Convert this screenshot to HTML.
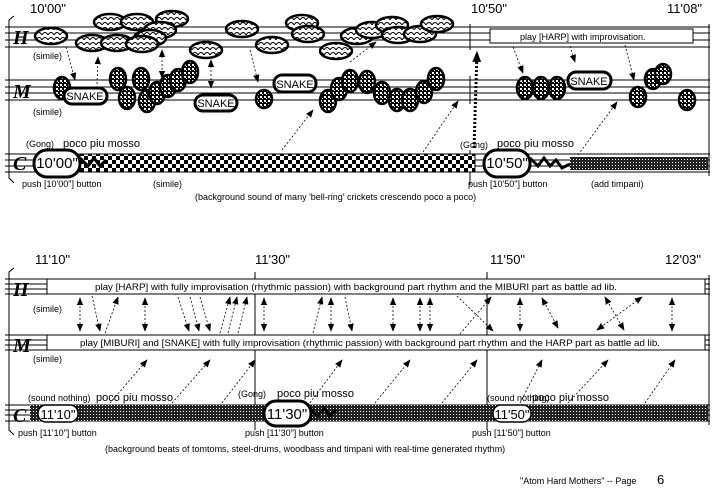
<!DOCTYPE html>
<html><head><meta charset="utf-8"><style>
html,body{margin:0;padding:0;background:#fff;}
svg{display:block;font-family:"Liberation Sans",sans-serif;}
</style></head><body>
<svg width="716" height="494" viewBox="0 0 716 494" xmlns="http://www.w3.org/2000/svg">
<defs>
<pattern id="scale" width="6" height="5" patternUnits="userSpaceOnUse"><rect width="6" height="5" fill="#fff"/><path d="M0 5 Q3 0 6 5" fill="none" stroke="#000" stroke-width="1"/></pattern>
<pattern id="chk" width="4" height="4" patternUnits="userSpaceOnUse"><rect width="4" height="4" fill="#000"/><rect width="2" height="2" fill="#fff"/><rect x="2" y="2" width="1" height="1" fill="#fff"/></pattern>
<pattern id="big" width="8" height="8" patternUnits="userSpaceOnUse"><rect width="8" height="8" fill="#fff"/><rect width="4" height="4" fill="#000"/><rect x="4" y="4" width="4" height="4" fill="#000"/></pattern>
<pattern id="dot" width="3" height="3" patternUnits="userSpaceOnUse"><rect width="3" height="3" fill="#222"/><rect width="1" height="1" fill="#fff"/></pattern>
<marker id="a" viewBox="0 0 10 10" refX="9" refY="5" markerWidth="10" markerHeight="10" orient="auto-start-reverse"><path d="M0 1 L10 5 L0 9z" fill="#000"/></marker>
<marker id="b" viewBox="0 0 10 10" refX="9" refY="5" markerWidth="11" markerHeight="11" markerUnits="userSpaceOnUse" orient="auto"><path d="M0 1 L10 5 L0 9z" fill="#000"/></marker>
</defs>
<g stroke="#000" stroke-width="1" fill="none">
<path d="M5 27H710M5 33H710M5 40H710M5 47H710"/>
<path d="M5 80H710M5 87H710M5 93H710M5 100H710"/>
<path d="M5 154H710M5 160H710M5 166H710M5 172H710"/>
<path d="M470 24V50M470 76V104M470 150V185M709 24V176"/>
<path d="M14 16 L9 20 V178 L14 183"/>
<path d="M5 279H710M5 284H710M5 289H710M5 294H710"/>
<path d="M5 335H710M5 340H710M5 345H710M5 350H710"/>
<path d="M5 405H710M5 410H710M5 415H710M5 421H710"/>
<path d="M255 272V430M487 272V430M709 275V425"/>
<path d="M14 268 L9 272 V430 L14 435"/>
</g>
<rect x="80" y="154" width="395" height="18" fill="url(#big)" stroke="#000"/>
<rect x="570" y="157" width="138" height="13" fill="url(#dot)"/>
<path d="M530 158 l8 8 l6 -8 l6 8 l6 -6 l6 8 l8 -4" stroke="#000" stroke-width="3" fill="none"/>
<path d="M80 158 l8 8 l6 -8 l6 8 l6 -6" stroke="#000" stroke-width="3" fill="none"/>
<rect x="30" y="405" width="678" height="16" fill="url(#dot)"/>
<path d="M310 408 l8 8 l6 -8 l6 8 l6 -6" stroke="#000" stroke-width="3" fill="none"/>
<g fill="url(#scale)" stroke="#000" stroke-width="2.5">
<ellipse cx="110" cy="22" rx="16" ry="8"/><ellipse cx="137" cy="22" rx="16" ry="8"/><ellipse cx="172" cy="19" rx="16" ry="8"/><ellipse cx="160" cy="30" rx="16" ry="8"/><ellipse cx="150" cy="38" rx="16" ry="8"/>
<ellipse cx="51" cy="36" rx="16" ry="8"/><ellipse cx="92" cy="43" rx="16" ry="8"/><ellipse cx="117" cy="43" rx="16" ry="8"/><ellipse cx="142" cy="44" rx="16" ry="8"/>
<ellipse cx="206" cy="50" rx="16" ry="8"/><ellipse cx="242" cy="29" rx="16" ry="8"/><ellipse cx="272" cy="45" rx="16" ry="8"/><ellipse cx="302" cy="23" rx="16" ry="8"/><ellipse cx="308" cy="34" rx="16" ry="8"/><ellipse cx="336" cy="51" rx="16" ry="8"/><ellipse cx="357" cy="36" rx="16" ry="8"/>
<ellipse cx="372" cy="30" rx="16" ry="8"/><ellipse cx="392" cy="25" rx="16" ry="8"/><ellipse cx="398" cy="35" rx="16" ry="8"/><ellipse cx="420" cy="34" rx="16" ry="8"/><ellipse cx="437" cy="24" rx="16" ry="8"/>
</g>
<g fill="url(#chk)" stroke="#000" stroke-width="2.5">
<ellipse cx="62" cy="88" rx="8" ry="11"/><ellipse cx="118" cy="79" rx="8" ry="11"/><ellipse cx="141" cy="79" rx="8" ry="11"/><ellipse cx="127" cy="98" rx="8" ry="11"/><ellipse cx="147" cy="101" rx="8" ry="11"/><ellipse cx="157" cy="93" rx="8" ry="11"/><ellipse cx="168" cy="86" rx="8" ry="11"/><ellipse cx="178" cy="80" rx="8" ry="11"/><ellipse cx="190" cy="72" rx="8" ry="11"/>
<ellipse cx="264" cy="99" rx="8" ry="9"/><ellipse cx="328" cy="101" rx="8" ry="11"/><ellipse cx="339" cy="89" rx="8" ry="11"/><ellipse cx="350" cy="81" rx="8" ry="11"/>
<ellipse cx="367" cy="82" rx="8" ry="11"/><ellipse cx="382" cy="93" rx="8" ry="11"/><ellipse cx="397" cy="100" rx="8" ry="11"/><ellipse cx="410" cy="100" rx="8" ry="11"/><ellipse cx="424" cy="92" rx="8" ry="11"/><ellipse cx="436" cy="79" rx="8" ry="11"/>
<ellipse cx="525" cy="88" rx="8" ry="11"/><ellipse cx="541" cy="88" rx="8" ry="11"/><ellipse cx="557" cy="88" rx="8" ry="11"/>
<ellipse cx="638" cy="97" rx="8" ry="10"/><ellipse cx="653" cy="79" rx="8" ry="10"/><ellipse cx="663" cy="74" rx="8" ry="10"/><ellipse cx="687" cy="100" rx="8" ry="10"/>
</g>
<g fill="#fff" stroke="#000" stroke-width="3">
<rect x="64" y="88" width="43" height="16" rx="8"/><rect x="195" y="95" width="42" height="16" rx="8"/><rect x="274" y="75" width="42" height="17" rx="8"/><rect x="568" y="72" width="43" height="17" rx="8"/>
<rect x="34" y="150" width="46" height="27" rx="13"/><rect x="484" y="150" width="46" height="27" rx="13"/>
<rect x="264" y="401" width="47" height="25" rx="12"/>
</g>
<g fill="#fff" stroke="#000" stroke-width="1.5">
<rect x="38" y="405" width="40" height="17" rx="8"/><rect x="493" y="405" width="38" height="17" rx="8"/>
</g>
<g fill="#fff" stroke="#000" stroke-width="1">
<rect x="490" y="29" width="203" height="14"/>
<rect x="47" y="279" width="658" height="15"/>
<rect x="47" y="335" width="658" height="15"/>
</g>
<g font-size="11" text-anchor="middle">
<text x="85" y="100">SNAKE</text><text x="216" y="107">SNAKE</text><text x="295" y="88">SNAKE</text><text x="589" y="85">SNAKE</text>
</g>
<g font-size="15" text-anchor="middle">
<text x="57" y="168">10'00"</text><text x="507" y="168">10'50"</text><text x="287" y="419">11'30"</text>
</g>
<g font-size="13" text-anchor="middle"><text x="58" y="419">11'10"</text><text x="512" y="419">11'50"</text></g>
<g stroke="#000" stroke-width="0.8" stroke-dasharray="2,2" fill="none" marker-end="url(#a)">
<path d="M66 47 L75 80"/><path d="M97 84 L98 57"/><path d="M250 50 L258 82"/><path d="M282 150 L313 110"/><path d="M350 62 L376 42"/><path d="M423 152 L458 101"/><path d="M513 47 L523 73"/><path d="M570 46 L575 62"/><path d="M625 45 L634 80"/><path d="M578 155 L617 102"/>
<path d="M162 78 L162 50" marker-start="url(#a)"/><path d="M211 88 L211 60" marker-start="url(#a)"/>
<path d="M92 296 L100 331"/><path d="M105 333 L118 297"/><path d="M80 298 L80 331" marker-start="url(#a)"/><path d="M145 298 L145 331" marker-start="url(#a)"/>
<path d="M178 297 L189 331"/><path d="M190 297 L199 331"/><path d="M200 297 L210 331"/>
<path d="M220 333 L230 297"/><path d="M228 333 L237 297"/><path d="M238 333 L247 297"/>
<path d="M264 298 L264 331" marker-start="url(#a)"/><path d="M313 333 L322 297"/><path d="M331 298 L331 331" marker-start="url(#a)"/><path d="M345 297 L352 331"/>
<path d="M393 298 L393 331" marker-start="url(#a)"/><path d="M420 298 L420 331" marker-start="url(#a)"/><path d="M430 298 L430 331" marker-start="url(#a)"/>
<path d="M457 296 L493 331"/><path d="M460 334 L491 297"/><path d="M520 298 L520 331" marker-start="url(#a)"/>
<path d="M542 298 L558 328" marker-start="url(#a)"/><path d="M605 297 L624 330" marker-start="url(#a)"/><path d="M597 330 L642 297" marker-start="url(#a)"/><path d="M672 298 L672 331" marker-start="url(#a)"/>
<path d="M110 403 L147 360"/><path d="M172 403 L210 360"/><path d="M222 403 L255 360"/><path d="M310 403 L342 360"/><path d="M375 403 L410 360"/><path d="M442 403 L477 360"/><path d="M520 403 L542 360"/><path d="M568 403 L608 360"/><path d="M645 403 L675 360"/>
</g>
<path d="M474 148 L477 52" stroke="#000" stroke-width="3" stroke-dasharray="2,2" marker-end="url(#b)"/>
<g font-size="13"><text x="30" y="13">10'00"</text><text x="471" y="13">10'50"</text><text x="667" y="13">11'08"</text>
<text x="35" y="264">11'10"</text><text x="255" y="264">11'30"</text><text x="490" y="264">11'50"</text><text x="665" y="264">12'03"</text></g>
<g font-size="20" font-weight="bold" font-style="italic" font-family="Liberation Serif,serif"><text x="13" y="44">H</text><text x="13" y="98">M</text><text x="13" y="170">C</text><text x="13" y="296">H</text><text x="13" y="352">M</text><text x="13" y="422">C</text></g>
<g font-size="9">
<text x="33" y="59">(simile)</text><text x="33" y="115">(simile)</text><text x="26" y="147">(Gong)</text><text x="153" y="187">(simile)</text>
<text x="22" y="187">push [10'00"] button</text><text x="195" y="200">(background sound of many 'bell-ring' crickets crescendo poco a poco)</text>
<text x="460" y="148">(Gong)</text><text x="468" y="187">push [10'50"] button</text><text x="591" y="187">(add timpani)</text>
<text x="520" y="40">play [HARP] with improvisation.</text>
<text x="95" y="290" textLength="522" lengthAdjust="spacingAndGlyphs">play [HARP] with fully improvisation (rhythmic passion) with background part rhythm and the MIBURI part as battle  ad lib.</text>
<text x="80" y="346" textLength="580" lengthAdjust="spacingAndGlyphs">play [MIBURI] and [SNAKE] with fully improvisation (rhythmic passion) with background part rhythm and the HARP part as battle  ad lib.</text>
<text x="33" y="312">(simile)</text><text x="33" y="362">(simile)</text>
<text x="28" y="401">(sound nothing)</text><text x="238" y="397">(Gong)</text><text x="487" y="401">(sound nothing)</text>
<text x="18" y="436">push [11'10"] button</text><text x="245" y="436">push [11'30"] button</text><text x="472" y="436">push [11'50"] button</text>
<text x="105" y="452">(background beats of tomtoms, steel-drums, woodbass and timpani with real-time generated rhythm)</text>
<text x="520" y="484">"Atom Hard Mothers" -- Page</text>
</g>
<g font-size="11"><text x="63" y="147">poco piu mosso</text><text x="497" y="147">poco piu mosso</text><text x="96" y="401">poco piu mosso</text><text x="277" y="397">poco piu mosso</text><text x="532" y="401">poco piu mosso</text><text x="657" y="484" font-size="13">6</text></g>
</svg>
</body></html>
